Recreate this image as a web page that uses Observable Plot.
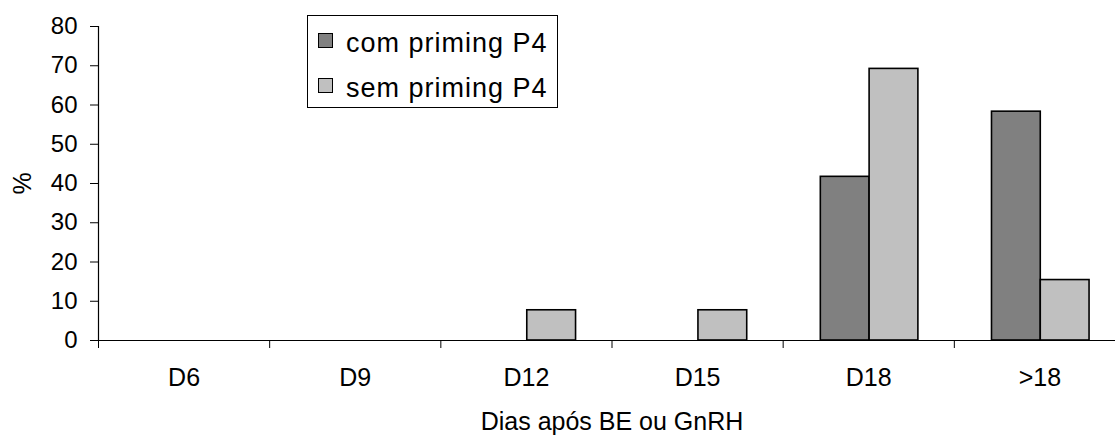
<!DOCTYPE html>
<html>
<head>
<meta charset="utf-8">
<script src="https://cdn.jsdelivr.net/npm/d3@7"></script>
<script src="https://cdn.jsdelivr.net/npm/@observablehq/plot@0.6"></script>
<style>
  html, body { margin: 0; padding: 0; background: #fff; overflow: hidden; }
  #wrap { position: relative; width: 1115px; height: 435px; font-family: "Liberation Sans", Arial, sans-serif; }
  #legend { position: absolute; left: 307px; top: 15px; width: 249px; height: 91px; border: 1px solid #000; background: #fff; }
  .row { position: absolute; left: 0; display: flex; align-items: flex-start; font-size: 27px; line-height: 30px; color: #000; white-space: nowrap; letter-spacing: 1px; }
  .sw { width: 13px; height: 13px; border: 1px solid #000; margin-left: 10px; margin-right: 13px; margin-top: 5px; }
</style>
</head>
<body>
<div id="wrap"></div>
<script>
const categories = ["D6", "D9", "D12", "D15", "D18", ">18"];
const series = ["com priming P4", "sem priming P4"];
const comPriming = [0, 0, 0, 0, 41.7, 58.3];
const semPriming = [0, 0, 7.7, 7.7, 69.2, 15.4];
const yTicks = [0, 10, 20, 30, 40, 50, 60, 70, 80];
const colors = ["#808080", "#c0c0c0"];
const xTitle = "Dias após BE ou GnRH";
const yTitle = "%";

const rows = [];
categories.forEach((c, i) => {
  rows.push({cat: c, i, s: 0, v: comPriming[i]});
  rows.push({cat: c, i, s: 1, v: semPriming[i]});
});
const bars = rows.filter(d => d.v > 0);
const FONT = "Liberation Sans, Arial, sans-serif";

const chart = Plot.plot({
  width: 1115,
  height: 435,
  marginTop: 26,
  marginBottom: 95,
  marginLeft: 98,
  marginRight: 0,
  style: {fontFamily: FONT, background: "#fff", color: "#000", overflow: "visible"},
  x: {type: "linear", domain: [0, categories.length], range: [98, 1125], axis: null},
  y: {domain: [0, 80], range: [340, 26], axis: null},
  marks: [
    Plot.rectY(bars, {
      x1: d => d.i + (d.s === 0 ? 0.22 : 0.505),
      x2: d => d.i + (d.s === 0 ? 0.505 : 0.79),
      y1: 0, y2: "v",
      fill: d => colors[d.s], stroke: "#000", strokeWidth: 1.6
    }),
    Plot.axisY({ticks: yTicks, tickSize: 8, tickPadding: 13, fontSize: 24, label: null, anchor: "left"}),
    Plot.ruleX([0], {y1: 0, y2: 80, stroke: "#000", strokeWidth: 1.2}),
    Plot.ruleY([0], {x1: 0, x2: categories.length, stroke: "#000", strokeWidth: 1.2}),
    Plot.axisX({ticks: d3.range(categories.length + 1), tickSize: 8, tickFormat: () => "", label: null, anchor: "bottom"}),
    Plot.axisX({ticks: categories.map((c, i) => i + 0.5), tickSize: 0, tickPadding: 28,
      tickFormat: t => categories[Math.floor(t)], fontSize: 25, label: null, anchor: "bottom"}),
    Plot.text([xTitle], {x: categories.length / 2, y: 0, dy: 89, text: d => d, lineAnchor: "bottom", fontSize: 25, fill: "#000"}),
    Plot.text([yTitle], {x: 0, y: 40, dx: -76, text: d => d, rotate: -90, fontSize: 25, fill: "#000"})
  ]
});
const wrap = document.getElementById("wrap");
wrap.appendChild(chart);

const legend = document.createElement("div");
legend.id = "legend";
series.forEach((s, k) => {
  const row = document.createElement("div");
  row.className = "row";
  row.style.top = (k === 0 ? 12 : 57) + "px";
  const sw = document.createElement("div");
  sw.className = "sw";
  sw.style.background = colors[k];
  const t = document.createElement("span");
  t.textContent = s;
  row.appendChild(sw); row.appendChild(t);
  legend.appendChild(row);
});
wrap.appendChild(legend);
</script>
</body>
</html>
